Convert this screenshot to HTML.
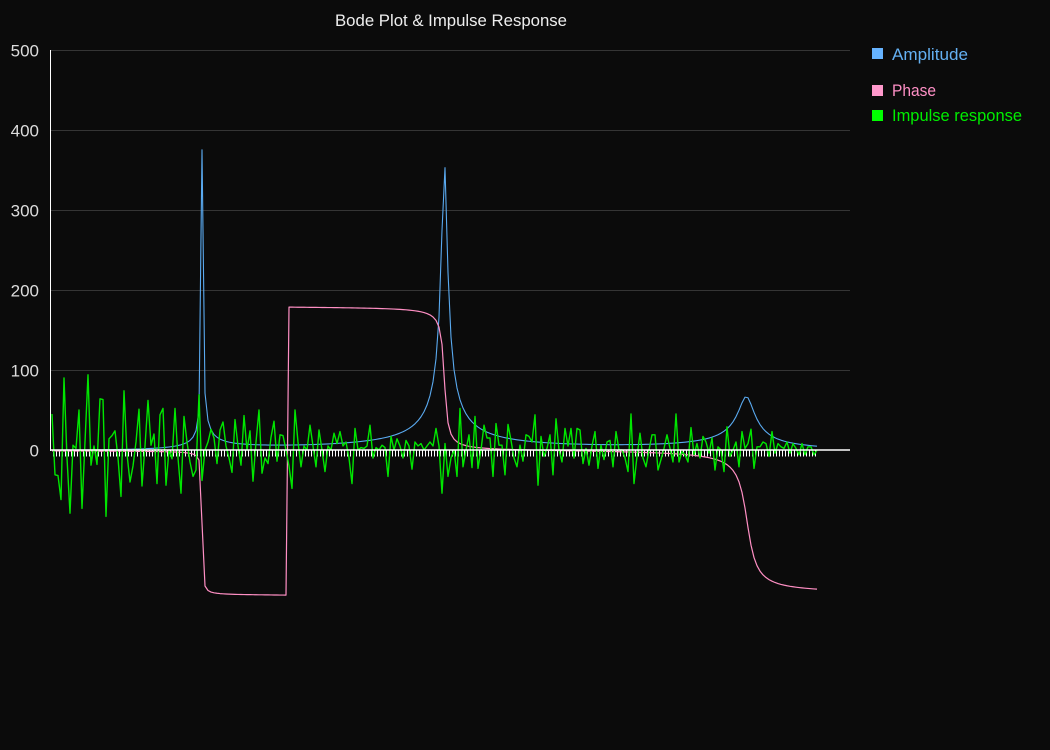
<!DOCTYPE html>
<html>
<head>
<meta charset="utf-8">
<style>
  html,body{margin:0;padding:0;background:#0b0b0b;}
  svg{display:block;}
  text{font-family:"Liberation Sans","DejaVu Sans",sans-serif;}
</style>
</head>
<body>
<svg id="c" width="1050" height="750" viewBox="0 0 1050 750" xmlns="http://www.w3.org/2000/svg">
  <rect x="0" y="0" width="1050" height="750" fill="#0b0b0b"/>
  <!-- grid -->
  <g stroke="#353535" stroke-width="1">
    <line x1="51" y1="50.5" x2="850" y2="50.5"/>
    <line x1="51" y1="130.5" x2="850" y2="130.5"/>
    <line x1="51" y1="210.5" x2="850" y2="210.5"/>
    <line x1="51" y1="290.5" x2="850" y2="290.5"/>
    <line x1="51" y1="370.5" x2="850" y2="370.5"/>
  </g>
  <!-- y axis -->
  <line x1="50.5" y1="50" x2="50.5" y2="451" stroke="#ffffff" stroke-width="1"/>
  <!-- y labels -->
  <g fill="#dddddd" font-size="17" text-anchor="end">
    <text x="39" y="56.5">500</text>
    <text x="39" y="136.5">400</text>
    <text x="39" y="216.5">300</text>
    <text x="39" y="296.5">200</text>
    <text x="39" y="376.5">100</text>
    <text x="39" y="456.5">0</text>
  </g>
  <!-- title -->
  <text x="335" y="26" fill="#eeeeee" font-size="17" textLength="232" lengthAdjust="spacingAndGlyphs">Bode Plot &amp; Impulse Response</text>
  <!-- legend -->
  <rect x="872" y="48" width="11" height="11" fill="#66b3ff"/>
  <text x="892" y="60" fill="#64b0f2" font-size="17" textLength="76" lengthAdjust="spacingAndGlyphs">Amplitude</text>
  <rect x="872" y="85" width="11" height="11" fill="#ff99cc"/>
  <text x="892" y="96" fill="#ff90c6" font-size="17" textLength="44" lengthAdjust="spacingAndGlyphs">Phase</text>
  <rect x="872" y="110" width="11" height="11" fill="#00ff00"/>
  <text x="892" y="121" fill="#00ee00" font-size="17" textLength="130" lengthAdjust="spacingAndGlyphs">Impulse response</text>

  <!-- ticks -->
  <path id="ticks" d="" stroke="#ffffff" stroke-width="1" fill="none"/>
  <!-- series -->
  <path id="amp" d="" stroke="#5aaaf0" stroke-width="1.1" fill="none" stroke-linejoin="round"/>
  <path id="pha" d="" stroke="#ff8fc4" stroke-width="1.2" fill="none" stroke-linejoin="round"/>
  <path id="imp" d="" stroke="#00e600" stroke-width="1.4" fill="none" stroke-linejoin="round"/>
  <!-- zero line -->
  <line x1="51" y1="450" x2="850" y2="450" stroke="#ffffff" stroke-width="1.6"/>
</svg>
<script>
(function(){
  var g=[45,-31,-32,-62,90,-10,-79,6,2,50,-73,10,94,-19,5,-18,64,63,-83,14,
  18,24,-10,-58,74,-5,-40,-20,10,51,-45,5,62,6,20,-42,44,52,-44,0,
  -11,52,-10,-54,42,10,-15,-33,-25,69,-38,0,10,26,15,-17,25,35,5,-10,
  -28,38,5,-19,43,0,24,-39,10,50,-29,-10,-17,16,36,-14,19,18,0,-20,
  -48,50,10,-21,5,0,31,5,-21,25,0,-27,5,0,21,8,23,5,10,-10,
  -42,27,0,3,2,5,31,-10,3,0,6,3,-33,17,0,14,5,-10,12,5,
  -24,10,5,8,0,5,10,5,27,5,-54,8,-33,-10,0,-33,52,-21,0,19,
  -22,42,-23,0,31,15,15,-33,33,6,6,-31,32,12,-10,-21,6,-14,19,17,
  10,44,-44,17,-8,2,19,-31,39,0,-15,27,5,27,-10,27,25,-17,2,-19,
  5,23,-23,6,-12,10,12,-21,23,0,0,-10,-27,45,-42,-8,21,-10,-21,0,
  19,19,-25,-12,2,19,2,-15,45,-15,-2,-6,-15,28,-6,8,-10,17,10,-4,
  15,-25,4,0,-27,29,-8,0,10,-21,23,2,8,26,-23,4,4,10,8,-8,
  23,-4,8,4,2,10,-4,8,2,-6,8,-6,4,4,-6,0];
  var N=256, deg=180/Math.PI;
  function X(i){return 52+3*i;}
  function Y(v){return 450-v*0.8;}
  var ip='',ap='',pp='',tk='';
  for(var i=0;i<N;i++){
    var x=X(i);
    var gv=(i<g.length)?g[i]:0;
    ip+=(i?'L':'M')+x.toFixed(1)+' '+Y(gv).toFixed(2);
    // amplitude
    var d1=i-50, L1;
    if(d1>=0) L1=373*0.19/Math.sqrt(0.19*0.19+d1*d1)*Math.exp(-d1/100);
    else L1=373*0.13/Math.sqrt(0.13*0.13+d1*d1);
    var d2=i-130.8, L2=360*0.95/Math.sqrt(0.95*0.95+d2*d2)*Math.exp(-Math.abs(d2)/100);
    var d3=i-231.5, L3=66*2.8/Math.sqrt(2.8*2.8+d3*d3)*Math.exp(d3>0?-d3/35:d3/150);
    var A=L1+L2+L3;
    if(i<50) A*=Math.pow(i/50,2);
    ap+=(i?'L':'M')+x.toFixed(1)+' '+Y(A).toFixed(2);
    // phase
    var p1=90+Math.atan((i-50)/0.2)*deg;
    var p2=90+Math.atan((i-130.8)/0.85)*deg;
    var p3=90+Math.atan((i-231.7)/2.3)*deg;
    var P=-(p1+p2+p3);
    if(i>=79) P+=360;
    pp+=(i?'L':'M')+x.toFixed(1)+' '+Y(P).toFixed(2);
  }
  for(var k=0;k<255;k++){
    var tx=53.5+3*k;
    tk+='M'+tx+' 450V456.5';
  }
  document.getElementById('imp').setAttribute('d',ip);
  document.getElementById('amp').setAttribute('d',ap);
  document.getElementById('pha').setAttribute('d',pp);
  document.getElementById('ticks').setAttribute('d',tk);
})();
</script>
</body>
</html>
